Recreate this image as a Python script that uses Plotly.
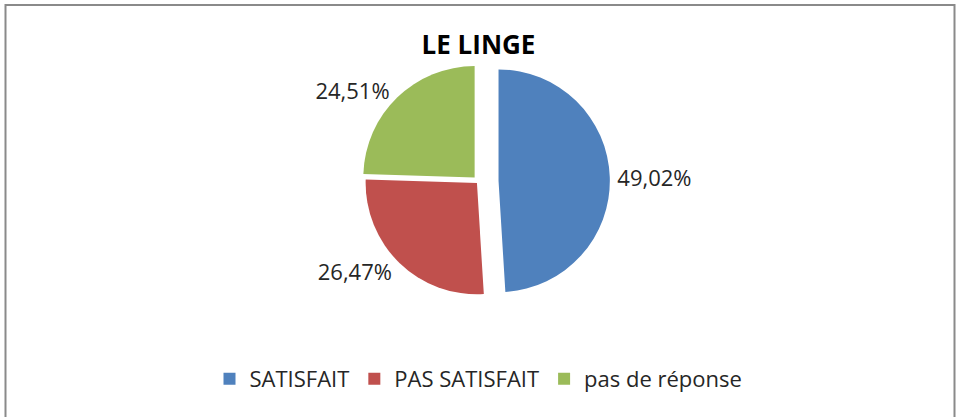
import plotly.graph_objects as go

categories = ["SATISFAIT", "PAS SATISFAIT", "pas de réponse"]
values = [49.02, 26.47, 24.51]
labels_text = ["49,02%", "26,47%", "24,51%"]
colors = ["#4F81BD", "#C0504D", "#9BBB59"]

W, H = 957, 417
fig = go.Figure()
fig.add_trace(go.Pie(
    labels=categories,
    values=values,
    text=labels_text,
    texttemplate="%{text}",
    textinfo="text",
    textposition="outside",
    automargin=False,
    sort=False,
    direction="clockwise",
    rotation=0,
    pull=[0.18, 0.02, 0.05],
    marker=dict(colors=colors, line=dict(width=0)),
    textfont=dict(family="Open Sans", size=22, color="#262626"),
    hoverinfo="label+percent",
    domain=dict(x=[0.225, 0.775], y=[0.25, 0.88]),
    showlegend=True,
))

fig.add_shape(type="rect", xref="paper", yref="paper",
              x0=5.5 / W, x1=954.5 / W, y0=-0.05, y1=1 - 5 / H,
              line=dict(color="#8a8a8a", width=2), fillcolor="rgba(0,0,0,0)")

fig.update_layout(
    width=W, height=H,
    margin=dict(l=0, r=0, t=0, b=0, autoexpand=False),
    paper_bgcolor="white",
    plot_bgcolor="white",
    title=dict(text="<b>LE LINGE</b>", x=0.5, xanchor="center", y=1 - 45 / H, yanchor="middle",
               font=dict(family="Open Sans", size=26, color="#000000")),
    legend=dict(orientation="h", x=0.5, xanchor="center", y=1 - 379 / H, yanchor="middle",
                font=dict(family="Open Sans", size=22, color="#262626"),
                itemwidth=30, traceorder="normal"),
    font=dict(family="Open Sans"),
)

fig.write_html("out.html", post_script="document.body.style.margin='0';",
               config={"displayModeBar": False})
